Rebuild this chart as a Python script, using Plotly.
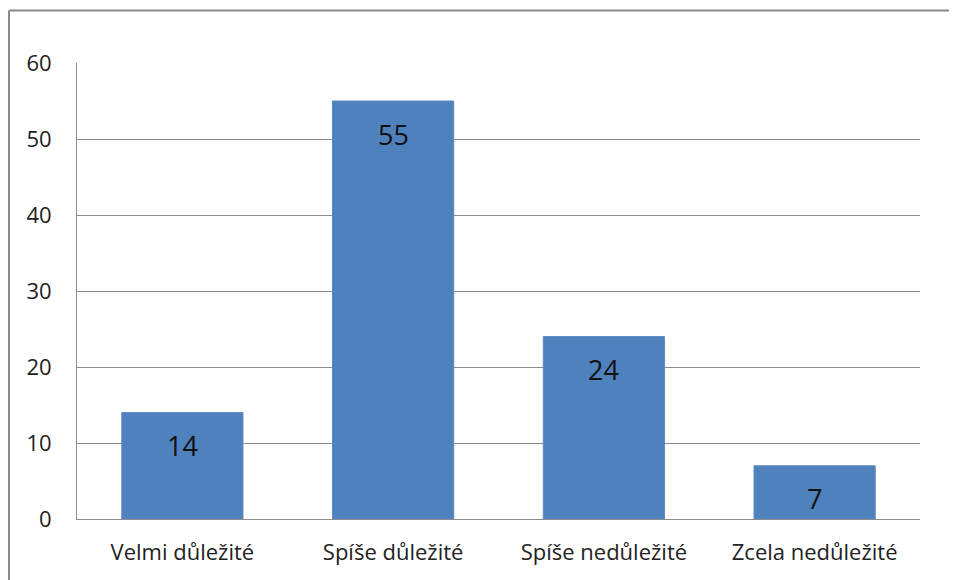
import plotly.graph_objects as go

categories = ["Velmi důležité", "Spíše důležité", "Spíše nedůležité", "Zcela nedůležité"]
values = [14, 55, 24, 7]
y_ticks = [0, 10, 20, 30, 40, 50, 60]

FONT = "'Open Sans', 'Noto Sans', sans-serif"

W, H = 957, 580
L, R, T, B = 69, 45, 55, 69
PW, PH = W - L - R, H - T - B

fig = go.Figure()
fig.add_trace(go.Bar(
    x=categories, y=values,
    marker=dict(color="#4F81BD", line=dict(color="#5B8BC4", width=1)),
    width=0.575,
    hoverinfo="skip",
))

for c, v in zip(categories, values):
    fig.add_annotation(x=c, y=v, text=str(v), showarrow=False, yanchor="middle",
                       yshift=-33, font=dict(family=FONT, size=27, color="#111"))

fx0 = (1 - L) / PW
fy1 = 1 + (T - 2.5) / PH
frame = dict(color="#8a8a8a", width=2)

fig.update_layout(
    width=W, height=H,
    margin=dict(l=L, r=R, t=T, b=B),
    paper_bgcolor="white", plot_bgcolor="white",
    showlegend=False,
    font=dict(family=FONT, size=22, color="#222"),
    xaxis=dict(showgrid=False, showline=True, linecolor="#8c8c8c", linewidth=1,
               ticks="", ticklabelstandoff=14, tickfont=dict(size=22)),
    yaxis=dict(range=[0, 60], tickvals=y_ticks, showgrid=True, gridcolor="#8c8c8c",
               gridwidth=1, showline=True, linecolor="#8c8c8c", linewidth=1,
               zeroline=False, ticks="", ticklabelstandoff=20, tickfont=dict(size=22)),
    shapes=[
        dict(type="line", xref="paper", yref="paper", x0=fx0, x1=1 + R / PW,
             y0=fy1, y1=fy1, line=frame, layer="below"),
        dict(type="line", xref="paper", yref="paper", x0=fx0, x1=fx0,
             y0=-B / PH, y1=fy1, line=frame, layer="below"),
    ],
)

fig.write_html("out.html")
